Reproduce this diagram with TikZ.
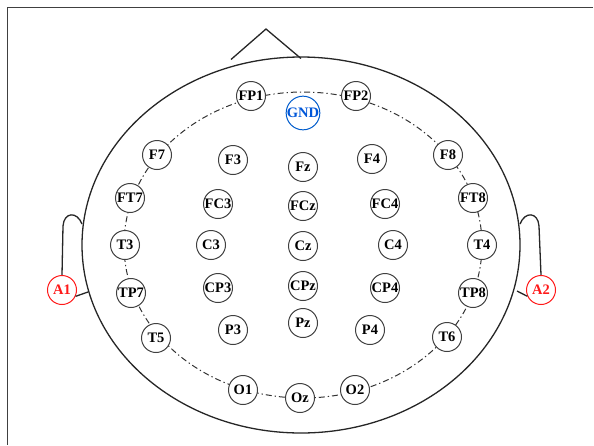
\documentclass[tikz,border=0pt]{standalone}
\usepackage{fontspec}
\setmainfont{Liberation Serif}
\begin{document}
\begin{tikzpicture}[x=1pt,y=-1pt,
  electrode/.style={circle,draw=black!75,line width=1pt,fill=white,
    minimum size=29pt,inner sep=0pt,font=\fontsize{14.5}{14.5}\selectfont\bfseries,text=black},
  gndnode/.style={electrode,draw=blue!55!cyan!80!black,text=blue!60!cyan!85!black,minimum size=33pt},
  refnode/.style={electrode,draw=red!90,text=red!90},
  outline/.style={line width=1.3pt,draw=black!85},
  ring/.style={line width=1pt,draw=black!80,dash pattern=on 6pt off 3pt on 1.3pt off 3pt}]
\useasboundingbox (0,0) rectangle (594,445);
% frame
\draw[line width=1.5pt,draw=black!75] (593,7.5) -- (7.5,7.5) -- (7.5,445);
% head, nose
\draw[outline] (301,245) ellipse [x radius=219,y radius=188];
\coordinate (noseL) at (231,59.5);
\coordinate (noseT) at (266,29);
\coordinate (noseR) at (301,58.5);
\draw[outline] (noseL) -- (noseT) -- (noseR);
% electrode ring
\draw[ring] (303,245) ellipse [x radius=179,y radius=153];
% reference electrodes on the ears
\node[refnode] (A1) at (62,290) {A1};
\node[refnode] (A2) at (541,290) {A2};
\coordinate (earLtop) at (82,224);
\coordinate (earLbot) at (88,292);
\coordinate (earRtop) at (520,224);
\coordinate (earRbot) at (517,291);
\draw[outline] (earLtop) .. controls (77,211) and (64,212) .. (63,226) -- (A1.north);
\draw[outline] (A1.-25) -- (earLbot);
\draw[outline] (earRtop) .. controls (525,211) and (538,212) .. (539,226) -- (A2.north);
\draw[outline] (A2.205) -- (earRbot);
% electrodes
\node[electrode] (FP1) at (251,96) {FP1};
\node[electrode] (FP2) at (356,96) {FP2};
\node[gndnode] (GND) at (303,113) {GND};
\node[electrode] (F7) at (157,155) {F7};
\node[electrode] (F3) at (233,160) {F3};
\node[electrode] (Fz) at (303,167) {Fz};
\node[electrode] (F4) at (372,159) {F4};
\node[electrode] (F8) at (448,155) {F8};
\node[electrode] (FT7) at (130,198) {FT7};
\node[electrode] (FC3) at (218,204) {FC3};
\node[electrode] (FCz) at (303,206) {FCz};
\node[electrode] (FC4) at (385,204) {FC4};
\node[electrode] (FT8) at (473,198) {FT8};
\node[electrode] (T3) at (125,245) {T3};
\node[electrode] (C3) at (211,245) {C3};
\node[electrode] (Cz) at (303,246) {Cz};
\node[electrode] (C4) at (393,245) {C4};
\node[electrode] (T4) at (482,245) {T4};
\node[electrode] (TP7) at (131,293) {TP7};
\node[electrode] (CP3) at (218,288) {CP3};
\node[electrode] (CPz) at (303,286) {CPz};
\node[electrode] (CP4) at (385,288) {CP4};
\node[electrode] (TP8) at (473,293) {TP8};
\node[electrode] (T5) at (156,338) {T5};
\node[electrode] (P3) at (233,330) {P3};
\node[electrode] (Pz) at (303,323) {Pz};
\node[electrode] (P4) at (370,330) {P4};
\node[electrode] (T6) at (447,337) {T6};
\node[electrode] (O1) at (243,390) {O1};
\node[electrode] (Oz) at (300,398) {Oz};
\node[electrode] (O2) at (355,390) {O2};
\end{tikzpicture}
\end{document}
